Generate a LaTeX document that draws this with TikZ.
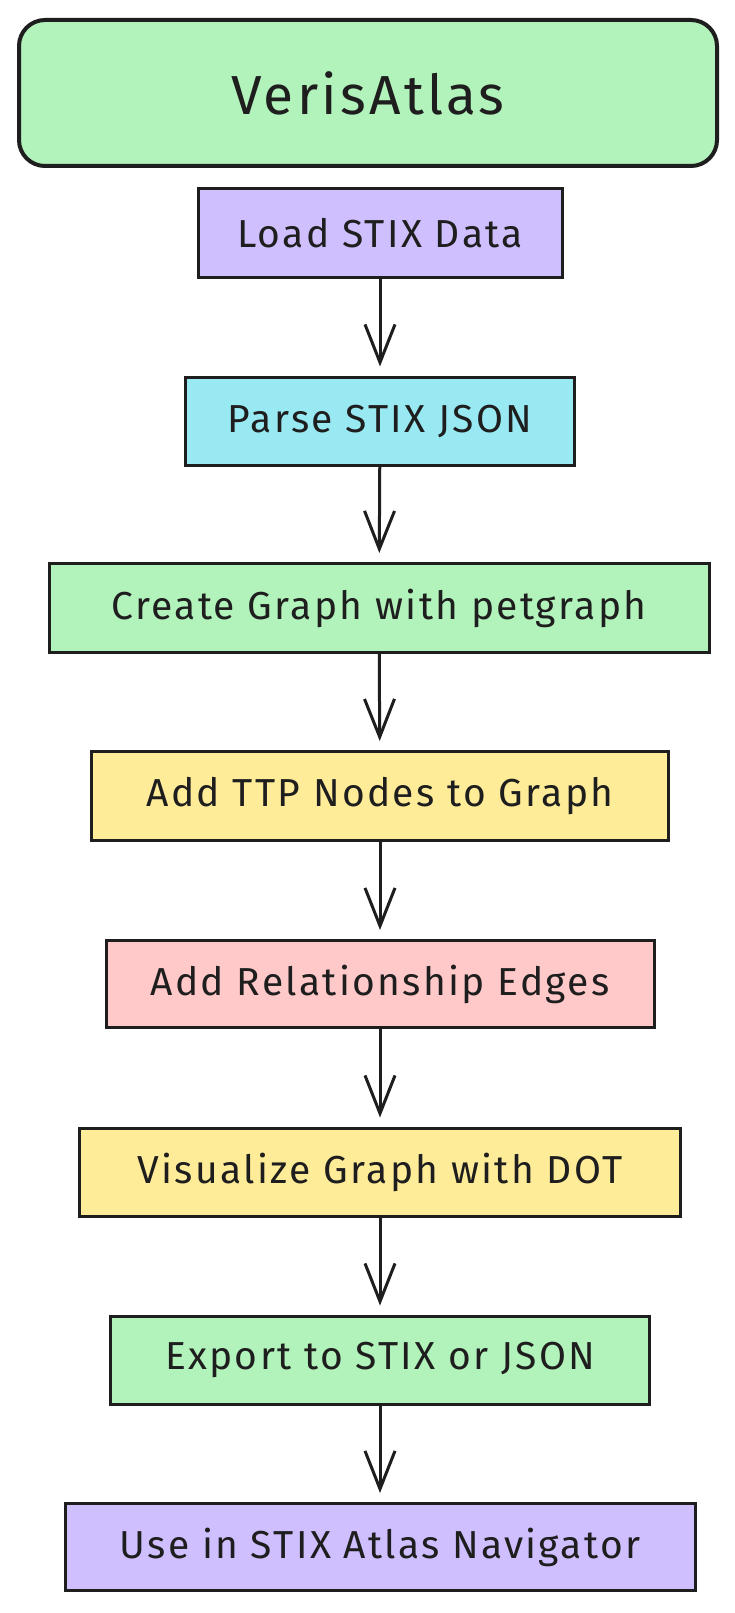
\documentclass[tikz,border=0pt]{standalone}
\usepackage{fontspec}
\setmainfont{Fira Sans}
\newfontfamily\boxfont[LetterSpace=6]{Fira Sans}
\usetikzlibrary{arrows.meta}
\definecolor{strokec}{HTML}{1E1E1E}
\definecolor{greenf}{HTML}{B2F2BB}
\definecolor{purplef}{HTML}{D0BFFF}
\definecolor{cyanf}{HTML}{99E9F2}
\definecolor{yellowf}{HTML}{FFEC99}
\definecolor{pinkf}{HTML}{FFC9C9}
\tikzset{
  stepbox/.style={draw=strokec, line width=3pt, text=strokec, inner sep=0pt,
    font=\boxfont\fontsize{39}{44}\selectfont},
  titlebox/.style={stepbox, rounded corners=26pt, line width=4pt,
    font=\boxfont\fontsize{55}{62}\selectfont},
  flow/.style={draw=strokec, line width=3pt, shorten >=9pt,
    -{Straight Barb[length=38pt,width=30pt,line width=3pt]}}
}
\begin{document}
\begin{tikzpicture}[x=1pt,y=-1pt]
\useasboundingbox (0,0) rectangle (734,1613);
\fill[white] (0,0) rectangle (734,1613);
\node[titlebox, fill=greenf, minimum width=698pt, minimum height=146pt] (title) at (368,93) {VerisAtlas};
\node[stepbox, fill=purplef, minimum width=364pt, minimum height=88pt] (n1) at (380,233) {Load STIX Data};
\node[stepbox, fill=cyanf, minimum width=389pt, minimum height=88pt] (n2) at (380,421) {Parse STIX JSON};
\node[stepbox, fill=greenf, minimum width=660pt, minimum height=89pt] (n3) at (379,608) {Create Graph with petgraph};
\node[stepbox, fill=yellowf, minimum width=577pt, minimum height=89pt] (n4) at (380,796) {Add TTP Nodes to Graph};
\node[stepbox, fill=pinkf, minimum width=548pt, minimum height=87pt] (n5) at (380,984) {Add Relationship Edges};
\node[stepbox, fill=yellowf, minimum width=601pt, minimum height=88pt] (n6) at (380,1172) {Visualize Graph with DOT};
\node[stepbox, fill=greenf, minimum width=539pt, minimum height=88pt] (n7) at (380,1360) {Export to STIX or JSON};
\node[stepbox, fill=purplef, minimum width=630pt, minimum height=87pt] (n8) at (380,1547) {Use in STIX Atlas Navigator};
\draw[flow] (n1) -- (n2);
\draw[flow] (n2) -- (n3);
\draw[flow] (n3) -- (n4);
\draw[flow] (n4) -- (n5);
\draw[flow] (n5) -- (n6);
\draw[flow] (n6) -- (n7);
\draw[flow] (n7) -- (n8);
\end{tikzpicture}
\end{document}
